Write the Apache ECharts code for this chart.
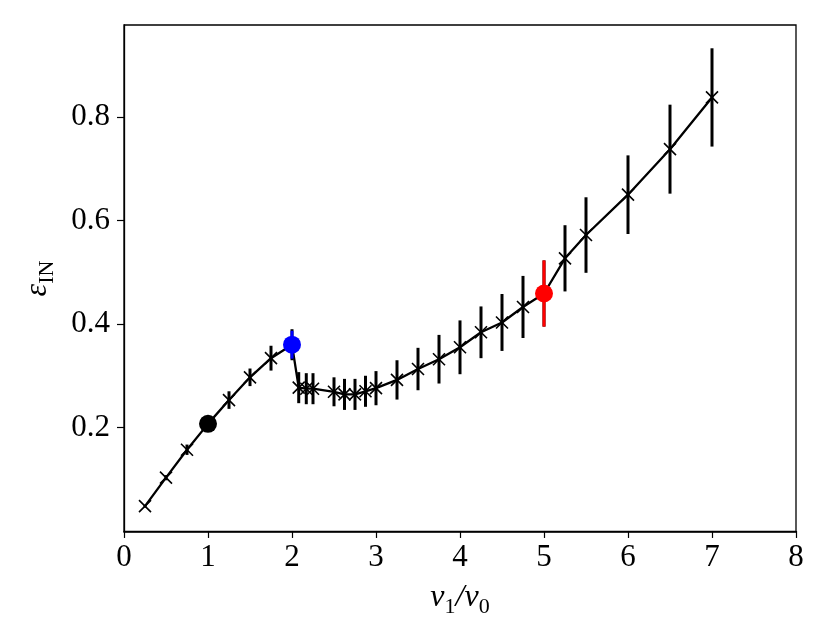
<!DOCTYPE html>
<html>
<head>
<meta charset="utf-8">
<script src="https://cdn.jsdelivr.net/npm/echarts@6/dist/echarts.min.js"></script>
<style>html,body{margin:0;padding:0;background:#fff}#c{width:830px;height:623px}</style>
</head>
<body>
<div id="c"></div>
<script>
// Data
const xs   = [0.25,0.5,0.75,1.0,1.25,1.5,1.75,2.0,2.08,2.17,2.25,2.5,2.625,2.75,2.875,3.0,3.25,3.5,3.75,4.0,4.25,4.5,4.75,5.0,5.25,5.5,6.0,6.5,7.0];
const ys   = [0.048,0.103,0.157,0.207,0.253,0.297,0.334,0.360,0.277,0.275,0.275,0.269,0.264,0.264,0.270,0.276,0.292,0.313,0.332,0.355,0.384,0.403,0.433,0.459,0.527,0.572,0.650,0.738,0.838];
const errs = [0.003,0.005,0.010,0.012,0.017,0.017,0.024,0.030,0.030,0.030,0.030,0.028,0.030,0.030,0.030,0.033,0.038,0.041,0.047,0.052,0.050,0.055,0.060,0.064,0.064,0.073,0.076,0.086,0.095];
const hiX   = [1.0, 2.0, 5.0];
const hiY   = [0.207, 0.360, 0.459];
const hiErr = [0.0, 0.027, 0.064];
const xTicks = [0,1,2,3,4,5,6,7,8];
const yTicks = [0.2,0.4,0.6,0.8];

const hiColors = ['#000000','#0000ff','#ff0000'];
const FONT = "'Liberation Serif','DejaVu Serif',serif";

const mainData = xs.map((x,i)=>[x, ys[i], errs[i]]);
const hiData = hiX.map((x,i)=>[x, hiY[i], hiErr[i], i]);

function errRender(colorFn, width){
  return function(params, api){
    const x = api.value(0), y = api.value(1), e = api.value(2);
    if (!e) return null;
    const p1 = api.coord([x, y - e]);
    const p2 = api.coord([x, y + e]);
    return {type:'line', shape:{x1:p1[0], y1:p1[1], x2:p2[0], y2:p2[1]},
            style:{stroke: colorFn(params.dataIndex), lineWidth: width}};
  };
}

const chart = echarts.init(document.getElementById('c'), null, {renderer:'canvas'});
chart.setOption({
  animation:false,
  backgroundColor:'#fff',
  grid:{left:124, right:34, top:25, bottom:86, show:true, borderColor:'#000', borderWidth:1.3, containLabel:false},
  xAxis:{
    type:'value', min:0, max:8, interval:1,
    name:'{v|ν}{s|1}{v|/ν}{s|0}', nameLocation:'middle', nameGap:46,
    nameTextStyle:{rich:{
      v:{fontFamily:FONT, fontSize:32, fontStyle:'italic', color:'#000', lineHeight:40},
      s:{fontFamily:FONT, fontSize:22, color:'#000', lineHeight:22, verticalAlign:'bottom'}
    }},
    axisLine:{show:true, lineStyle:{color:'#000', width:1.3}},
    axisTick:{show:true, length:7, lineStyle:{color:'#000', width:1.2}},
    axisLabel:{fontFamily:FONT, fontSize:31, color:'#000', margin:10,
      customValues: xTicks},
    splitLine:{show:false}
  },
  yAxis:{
    type:'value', min:-0.002, max:0.978,
    name:'{e|ε}{s|IN}', nameLocation:'middle', nameGap:66, nameRotate:90,
    nameTextStyle:{rich:{
      e:{fontFamily:FONT, fontSize:32, fontStyle:'italic', color:'#000', lineHeight:40},
      s:{fontFamily:FONT, fontSize:22, color:'#000', lineHeight:22, verticalAlign:'bottom'}
    }},
    axisLine:{show:true, lineStyle:{color:'#000', width:1.3}},
    axisTick:{show:true, length:7, lineStyle:{color:'#000', width:1.2}, customValues: yTicks},
    axisLabel:{fontFamily:FONT, fontSize:31, color:'#000', margin:14, customValues: yTicks,
      formatter: v => v.toFixed(1)},
    splitLine:{show:false}
  },
  series:[
    {
      type:'line', data: mainData.map(d=>[d[0], d[1]]), z:2,
      lineStyle:{color:'#000', width:2.3},
      symbol:'path://M0,0L10,10M10,0L0,10', symbolSize:12,
      itemStyle:{color:'transparent', borderColor:'#000', borderWidth:1.6},
      showSymbol:true, emphasis:{disabled:true}
    },
    {
      type:'custom', data: mainData, z:3,
      encode:{x:0, y:1},
      renderItem: errRender(()=>'#000', 3)
    },
    {
      type:'scatter', data: hiData.map(d=>[d[0], d[1], d[3]]), z:4,
      symbol:'circle', symbolSize:18,
      itemStyle:{color: p => hiColors[p.dataIndex], opacity:1},
      emphasis:{disabled:true}
    },
    {
      type:'custom', data: hiData, z:5,
      encode:{x:0, y:1},
      renderItem: errRender(i=>hiColors[i], 3)
    }
  ]
});
</script>
</body>
</html>
